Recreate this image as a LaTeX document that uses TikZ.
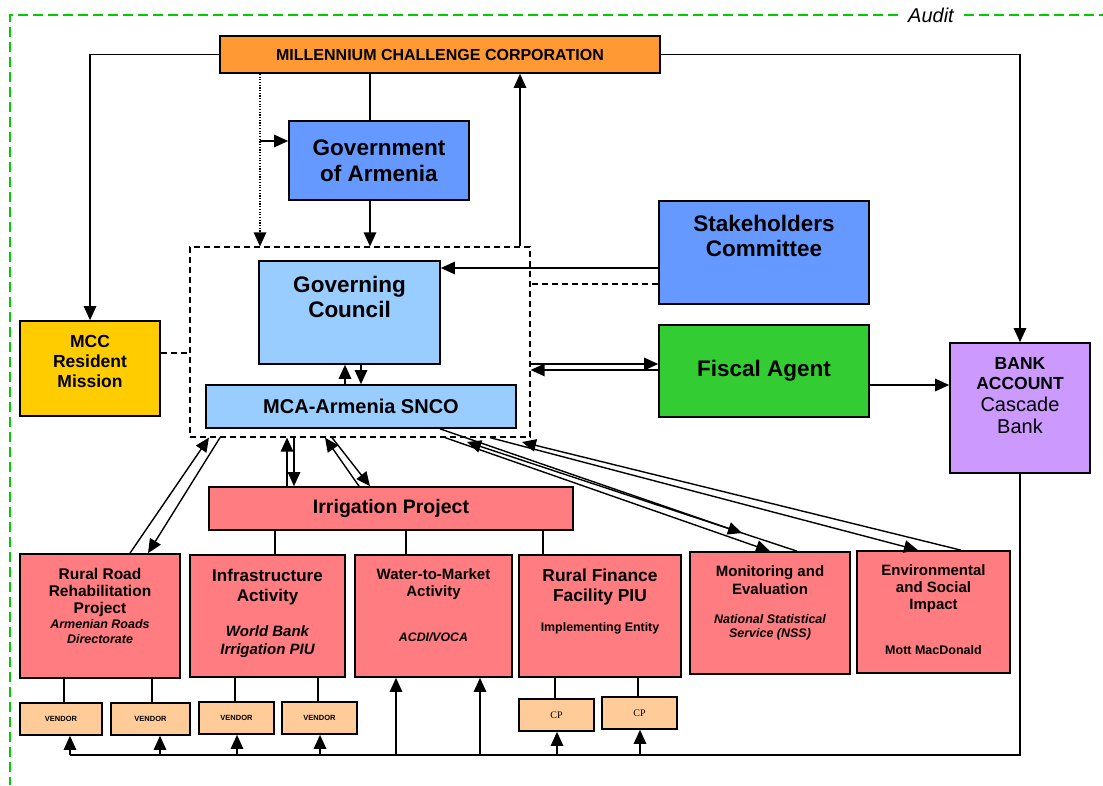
\documentclass[tikz,border=0pt]{standalone}
\usepackage{fontspec}
\setmainfont{Liberation Sans}
\newfontfamily\cpfont{Liberation Serif}
\usetikzlibrary{arrows.meta}

\definecolor{mccorange}{RGB}{255,153,51}
\definecolor{govblue}{RGB}{102,153,255}
\definecolor{lightblue}{RGB}{153,204,255}
\definecolor{agentgreen}{RGB}{51,204,51}
\definecolor{missionyellow}{RGB}{255,204,0}
\definecolor{bankpurple}{RGB}{204,153,255}
\definecolor{projpink}{RGB}{255,124,128}
\definecolor{vendorpeach}{RGB}{255,204,153}
\definecolor{auditgreen}{RGB}{0,204,0}

\newcommand{\hfont}[2]{\fontsize{#1}{#2}\selectfont\bfseries}
\newcommand{\topbox}[4]{\parbox[t][#2pt][t]{#1pt}{\centering\vspace*{#3pt}#4}}

\tikzset{
	box/.style={draw, line width=1.7pt, inner sep=0pt, align=center},
	pinkbox/.style={box, fill=projpink},
	vendorbox/.style={box, fill=vendorpeach, minimum height=32, font=\hfont{7.5}{9}},
	cpbox/.style={box, fill=vendorpeach, minimum width=75, minimum height=32, font=\cpfont\fontsize{10}{12}\selectfont},
	wire/.style={line width=1.4pt},
	conn/.style={wire, -{Triangle[length=14pt,width=12.5pt]}}}

\begin{document}
\begin{tikzpicture}[x=1pt,y=1pt,yscale=-1]
	\useasboundingbox (0,0) rectangle (1103,785);

	% audit frame
	\node[font=\fontsize{20}{22}\selectfont\itshape, inner xsep=10pt] (audit) at (931,15) {Audit};
	\draw[auditgreen, line width=2pt, dash pattern=on 10pt off 5pt] (audit.west) -- (10,15) -- (10,785);
	\draw[auditgreen, line width=2pt, dash pattern=on 10pt off 5pt] (audit.east) -- (1103,15);

	% top level
	\node[box, fill=mccorange, minimum width=440, minimum height=37, font=\hfont{16}{18}] (mcc) at (440,54.5) {MILLENNIUM CHALLENGE CORPORATION};
	\node[box, fill=govblue, minimum width=180, minimum height=79, font=\hfont{22.5}{25.5}] (gov) at (379,160.5) {Government\\of Armenia};

	% MCA-Armenia
	\node[draw, line width=1.2pt, dash pattern=on 6pt off 4pt, minimum width=340, minimum height=190] (mca) at (360,342) {};
	\node[box, fill=lightblue] (council) at (349.5,312.5) {\topbox{181}{103}{15}{\hfont{22.5}{25.3}Governing\\Council}};
	\node[box, fill=lightblue, minimum width=310, minimum height=43, font=\hfont{20}{22}] (snco) at (361,406.5) {MCA-Armenia SNCO};

	% side boxes
	\node[box, fill=govblue] (stake) at (764,252.5) {\topbox{210}{103}{14}{\hfont{22.5}{25.3}Stakeholders\\Committee}};
	\node[box, fill=agentgreen, minimum width=210, minimum height=92, font=\hfont{22.5}{25}] (fiscal) at (764,371) {Fiscal Agent};
	\node[box, fill=missionyellow] (resident) at (90,368.5) {\topbox{140}{95}{14}{\hfont{17.5}{20}MCC\\Resident\\Mission}};
	\node[box, fill=bankpurple] (bank) at (1020,408) {\topbox{140}{130}{14}{\hfont{17.5}{20}BANK\\ACCOUNT\par\fontsize{20}{22.3}\selectfont\mdseries Cascade\\Bank}};

	% projects
	\node[pinkbox, minimum width=364, minimum height=43, font=\hfont{19.5}{22}] (irr) at (391,508.5) {Irrigation Project};
	\node[pinkbox] (rural) at (100,616) {\topbox{160}{124}{14}{\hfont{15.5}{17}Rural Road\\Rehabilitation\\Project\par\fontsize{12.5}{15}\selectfont\itshape Armenian Roads\\Directorate}};
	\node[pinkbox] (infra) at (267.5,616) {\topbox{155}{122}{14}{\hfont{17}{19.7}Infrastructure\\Activity\par\vspace{18pt}\fontsize{15}{17.6}\selectfont\itshape World Bank\\Irrigation PIU}};
	\node[pinkbox] (water) at (433.5,616) {\topbox{157}{122}{14}{\hfont{15}{16.8}Water-to-Market\\Activity\par\vspace{30pt}\fontsize{12.3}{15}\selectfont\itshape ACDI/VOCA}};
	\node[pinkbox] (finance) at (600,616) {\topbox{162}{122}{14}{\hfont{17.4}{20}Rural Finance\\Facility PIU\par\vspace{15pt}\fontsize{12.4}{15}\selectfont Implementing Entity}};
	\node[pinkbox] (monitor) at (770,613) {\topbox{160}{122}{14}{\hfont{15}{17.3}Monitoring and\\Evaluation\par\vspace{14.5pt}\fontsize{12.5}{14.5}\selectfont\itshape National Statistical\\Service (NSS)}};
	\node[pinkbox] (env) at (933.5,612) {\topbox{153}{122}{14}{\hfont{15}{16.7}Environmental\\and Social\\Impact\par\vspace{30pt}\fontsize{12.5}{15}\selectfont Mott MacDonald}};

	% vendors and CPs
	\node[vendorbox, minimum width=82] (v1) at (61,719) {VENDOR};
	\node[vendorbox, minimum width=79] (v2) at (150.5,719) {VENDOR};
	\node[vendorbox, minimum width=75] (v3) at (236.5,718) {VENDOR};
	\node[vendorbox, minimum width=75] (v4) at (319.5,718) {VENDOR};
	\node[cpbox] (cp1) at (556.5,715) {CP};
	\node[cpbox] (cp2) at (639.5,713) {CP};

	% MCC links
	\draw[conn] (mcc.west) -| (resident.north);
	\draw[conn] (mcc.east) -| (bank.north);
	\draw[wire] (mcc.south -| 370,0) -- (gov.north -| 370,0);
	\coordinate (dotbranch) at (260,141);
	\draw[conn, line width=1.2pt, dash pattern=on 1.2pt off 1.5pt] (mcc.south -| dotbranch) -- (mca.north -| dotbranch);
	\draw[conn] (dotbranch) -- (gov.west |- dotbranch);
	\draw[conn] (gov.south -| 370,0) -- (mca.north -| 370,0);
	\draw[conn] (mca.north -| 520,0) -- (mcc.south -| 520,0);

	% side links
	\draw[conn] (stake.west |- 0,268) -- (council.east |- 0,268);
	\draw[wire, dash pattern=on 6pt off 4pt] (stake.west |- 0,284) -- (mca.east |- 0,284);
	\draw[wire, dash pattern=on 6pt off 4pt] (resident.east |- 0,353) -- (mca.west |- 0,353);
	\draw[conn] (snco.north -| 345,0) -- (council.south -| 345,0);
	\draw[conn] (council.south -| 361,0) -- (snco.north -| 361,0);
	\draw[conn] (mca.east |- 0,364) -- (fiscal.west |- 0,364);
	\draw[conn] (fiscal.west |- 0,370) -- (mca.east |- 0,370);
	\draw[conn] (fiscal.east |- 0,385) -- (bank.west |- 0,385);

	% down to the projects
	\draw[conn] (irr.north -| 287,0) -- (mca.south -| 287,0);
	\draw[conn] (mca.south -| 294,0) -- (irr.north -| 294,0);
	\draw[conn] (irr.north -| 359,0) -- (mca.south -| 325,0);
	\draw[conn] (mca.south -| 332,0) -- (irr.north -| 370,0);
	\draw[conn] (rural.north -| 130,0) -- (mca.south -| 209,0);
	\draw[conn] (mca.south -| 220,0) -- (rural.north -| 148,0);
	\coordinate (mtip) at (742,533);
	\coordinate (mback) at (467,442);
	\coordinate (eback) at (522,442);
	\draw[conn] (snco.south -| 440,0) -- (mtip);
	\draw[conn] (monitor.north -| 797,0) -- (mback);
	\draw[conn] (mca.south -| 445,0) -- (monitor.north);
	\draw[conn] (mca.south -| 490,0) -- (env.north -| 918,0);
	\draw[conn] (env.north -| 961,0) -- (eback);

	% irrigation activities
	\draw[wire] (irr.south -| 275,0) -- (infra.north -| 275,0);
	\draw[wire] (irr.south -| 406,0) -- (water.north -| 406,0);
	\draw[wire] (irr.south -| 543,0) -- (finance.north -| 543,0);
	\draw[wire] (rural.south -| 64,0) -- (v1.north -| 64,0);
	\draw[wire] (rural.south -| 152,0) -- (v2.north -| 152,0);
	\draw[wire] (infra.south -| 235,0) -- (v3.north -| 235,0);
	\draw[wire] (infra.south -| 318,0) -- (v4.north -| 318,0);
	\draw[wire] (finance.south -| 555,0) -- (cp1.north -| 555,0);
	\draw[wire] (finance.south -| 638,0) -- (cp2.north -| 638,0);

	% payments from the bank
	\coordinate (bus) at (70,755);
	\draw[wire] (bank.south) |- (bus);
	\foreach \x/\n in {70/v1,160/v2,237/v3,320/v4,396/water,480/water,557/cp1,640/cp2}
		\draw[conn] (bus -| \x,0) -- (\n.south -| \x,0);

\end{tikzpicture}
\end{document}
